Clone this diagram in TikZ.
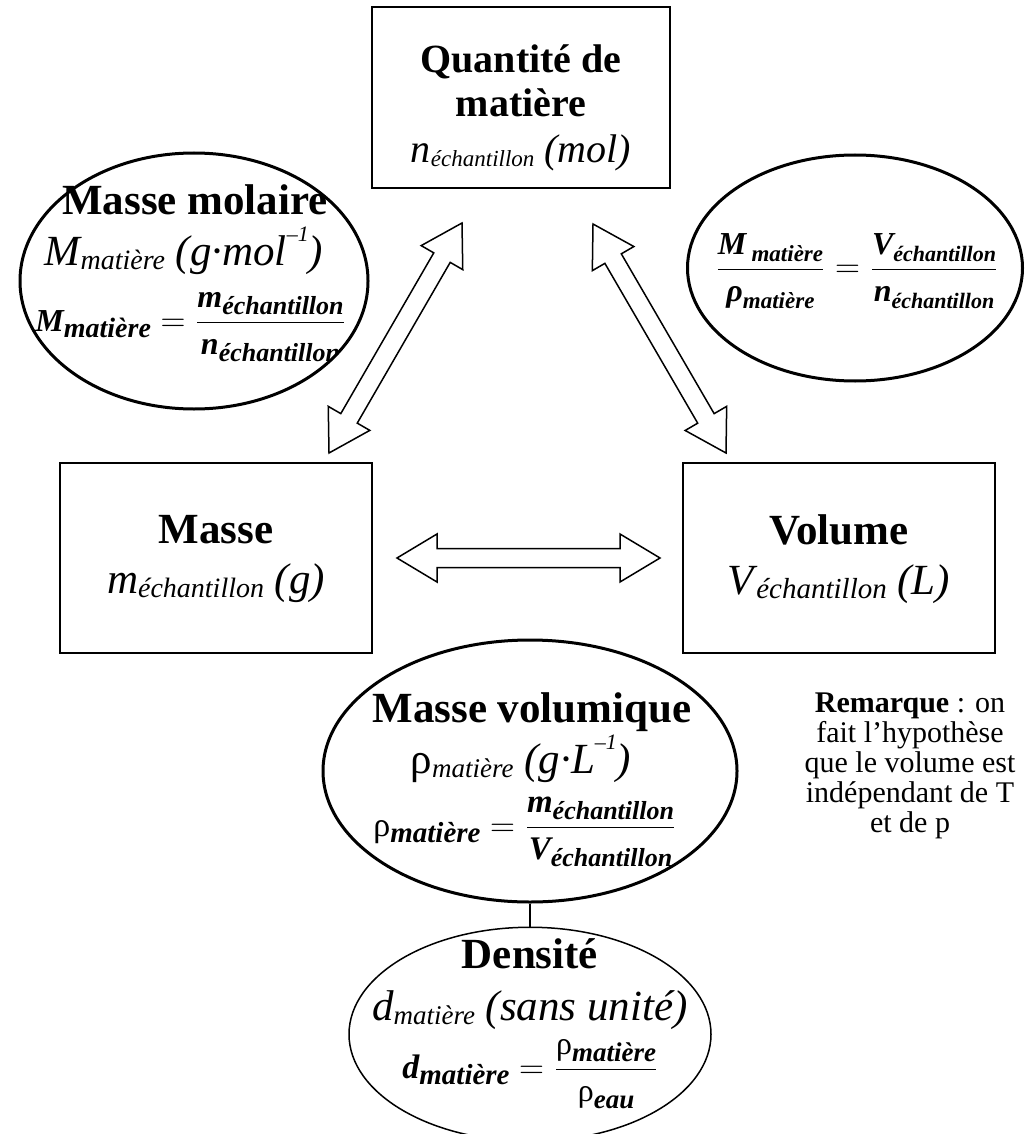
\documentclass[tikz,border=0pt]{standalone}
\usepackage{fontspec}
\setmainfont{Liberation Serif}
\usepackage{amsmath}
\usetikzlibrary{shapes.geometric, calc, positioning}
\tikzstyle{box} = [rectangle, draw=black, line width=0.75pt]
\tikzstyle{bubble} = [ellipse, draw=black, line width=1.5pt, inner sep=0pt]
\tikzstyle{thinbubble} = [ellipse, draw=black, line width=0.75pt, inner sep=0pt]
\tikzstyle{title} = [anchor=base, inner sep=0pt, font=\fontsize{21.5}{25}\selectfont\bfseries]
\tikzstyle{unit} = [anchor=base, inner sep=0pt, font=\fontsize{21.5}{25}\selectfont\itshape]
\tikzstyle{formula} = [anchor=base west, inner sep=0pt]
\tikzstyle{arrowline} = [draw=black, line width=0.75pt, fill=white, line join=miter]
\tikzstyle{link} = [draw=black, line width=0.75pt]
\newcommand{\lo}[2]{\raisebox{-0.1em}{\fontsize{#1}{#1}\selectfont #2}}
\newcommand{\dn}[2]{\raisebox{-0.2em}{\fontsize{#1}{#1}\selectfont #2}}
\newcommand{\up}[2]{\raisebox{0.55em}{\fontsize{#1}{#1}\selectfont #2}}
\newcommand{\bi}[1]{\mbox{\bfseries\itshape #1}}
\newcommand{\hollowarrow}[2]{%
	\draw[arrowline] (#1)
	-- ($(#1)!20pt!(#2)!12pt!90:(#2)$)
	-- ($(#1)!20pt!(#2)!4.75pt!90:(#2)$)
	-- ($(#2)!20pt!(#1)!4.75pt!-90:(#1)$)
	-- ($(#2)!20pt!(#1)!12pt!-90:(#1)$)
	-- (#2)
	-- ($(#2)!20pt!(#1)!12pt!90:(#1)$)
	-- ($(#2)!20pt!(#1)!4.75pt!90:(#1)$)
	-- ($(#1)!20pt!(#2)!4.75pt!-90:(#2)$)
	-- ($(#1)!20pt!(#2)!12pt!-90:(#2)$)
	-- cycle;}
\begin{document}
\begin{tikzpicture}[x=0.5pt, y=-0.5pt, node distance=10mm, auto]
	\useasboundingbox (0,0) rectangle (1026,1134);
	% the three quantities
	\node (Quantite) [box, minimum width=149pt, minimum height=90.5pt] at (521,97.5) {};
	\node (QuantiteText) [align=center, font=\fontsize{20}{22}\selectfont] at ($(Quantite.center)+(0,10)$) {\textbf{Quantité de}\\ \textbf{matière}\\[1pt] \textit{n}\lo{11.5}{\itshape échantillon} \textit{(mol)}};
	\node (Masse) [box, minimum width=156pt, minimum height=95pt] at (216,558) {};
	\node (MasseText) [align=center, font=\fontsize{21.5}{25}\selectfont] at ($(Masse.center)+(0,1)$) {\textbf{Masse}\\ \textit{m}\lo{14}{\itshape échantillon} \textit{(g)}};
	\node (Volume) [box, minimum width=156pt, minimum height=95pt] at (839,558) {};
	\node (VolumeText) [align=center, font=\fontsize{21.5}{25}\selectfont] at ($(Volume.center)+(0,1)$) {\textbf{Volume}\\ \textit{V}\hspace{-1pt}\lo{14.5}{\itshape échantillon} \textit{(L)}};
	% the relations
	\node (MasseMolaire) [bubble, minimum width=174pt, minimum height=128pt] at (194,281) {};
	\node (MolaireTitle) [title] at (195,215) {Masse molaire};
	\node (MolaireUnit) [unit] at (184,265) {M\lo{14}{matière} (g·mol\up{11}{–1})};
	\begin{scope}
		\clip (MasseMolaire.center) ellipse [x radius=86.5pt, y radius=63.5pt];
		\node (MolaireFormula) [formula] at (35,331) {\fontsize{16}{16}\selectfont $\bi{M\dn{14}{matière}} = \dfrac{\bi{m\dn{13}{échantillon}}}{\bi{\rule{0pt}{13pt}n\dn{13}{échantillon}}}$};
	\end{scope}
	\node (Rapport) [bubble, minimum width=167.5pt, minimum height=113pt] at (855,268) {};
	\node (RapportFormula) [formula] at (715,278) {\fontsize{16}{16}\selectfont $\dfrac{\bi{M\,\dn{11.5}{matière}}}{\bi{\rule{0pt}{13pt}ρ\dn{11.5}{matière}}} = \dfrac{\bi{V\dn{11}{échantillon}}}{\bi{\rule{0pt}{13pt}n\dn{11}{échantillon}}}$};
	\node (MasseVolumique) [bubble, minimum width=207pt, minimum height=131pt] at (530,771) {};
	\node (VolumiqueTitle) [title] at (532,722) {Masse volumique};
	\node (VolumiqueUnit) [unit] at (521,773) {\upshape ρ\itshape\lo{13.5}{matière} (g·L\up{11}{–1})};
	\node (VolumiqueFormula) [formula] at (373,836) {\fontsize{17}{17}\selectfont $\mbox{ρ}\bi{\dn{14.5}{matière}} = \dfrac{\bi{\fontsize{16.5}{16.5}\selectfont m\dn{13}{échantillon}}}{\bi{\fontsize{16.5}{16.5}\selectfont\rule{0pt}{12pt}V\dn{13}{échantillon}}}$};
	\node (Densite) [thinbubble, minimum width=181pt, minimum height=107pt, below=11.5pt of MasseVolumique] {};
	\node (DensiteTitle) [title] at (530,968) {Densité};
	\node (DensiteUnit) [unit] at (530,1020) {d\lo{13.5}{matière} (sans unité)};
	\node (DensiteFormula) [formula] at (402,1078) {\fontsize{17}{17}\selectfont $\bi{d\dn{14.5}{matière}} = \dfrac{\mbox{\fontsize{16}{16}\selectfont ρ}\bi{\dn{13.5}{matière}}}{\rule{0pt}{12pt}\mbox{\fontsize{16}{16}\selectfont ρ}\bi{\dn{13.5}{eau}}}$};
	\node (Remarque) [align=center, font=\fontsize{15}{15}\selectfont] at (910,766) {\textbf{Remarque} : on\\ fait l’hypothèse\\ que le volume est\\ indépendant de T\\ et de p};
	% conversions
	\coordinate (MasseUp) at (329,453);
	\coordinate (QuantiteLeft) at (462,223);
	\coordinate (QuantiteRight) at (593,224);
	\coordinate (VolumeUp) at (726,453);
	\coordinate (MasseRight) at (397,558);
	\coordinate (VolumeLeft) at (660,558);
	\hollowarrow{MasseUp}{QuantiteLeft}
	\hollowarrow{QuantiteRight}{VolumeUp}
	\hollowarrow{MasseRight}{VolumeLeft}
	\draw [link] (MasseVolumique.south) -- (Densite.north);
\end{tikzpicture}
\end{document}
